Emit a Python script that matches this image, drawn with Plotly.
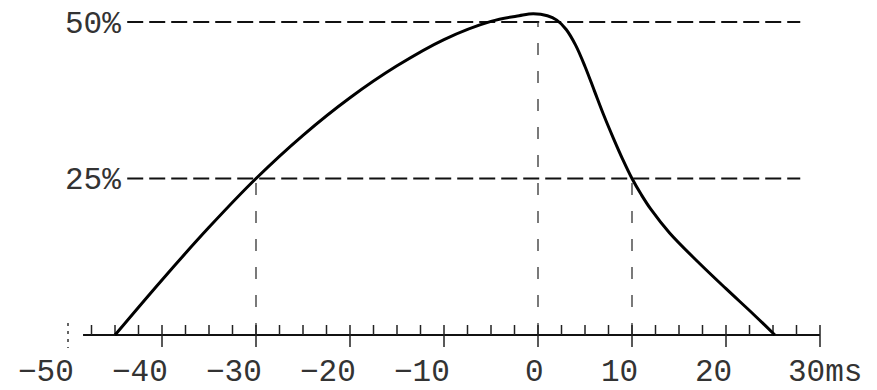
import plotly.graph_objects as go

# ---- data ----
time_ms = [-45, -40, -35, -30, -25, -20, -15, -10, -5, -2, -0.5, 1, 2, 3, 4, 5, 6, 7, 8, 9, 10, 11, 12, 14, 17, 20, 23, 25.2]
percent = [0, 8.8, 17.2, 25, 31.9, 37.9, 43.0, 47.2, 50.1, 51.0, 51.3, 51.0, 50.3, 48.8, 46.3, 42.9, 39.0, 35.1, 31.5, 28.1, 25.0, 22.4, 20.1, 16.3, 11.7, 7.4, 3.2, 0]

x_major_ticks = [-50, -40, -30, -20, -10, 0, 10, 20, 30]
x_tick_labels = ["−50", "−40", "−30", "−20", "−10", "0", "10", "20", "30ms"]
x_minor_step = 2.5

y_levels = [25, 50]
y_labels = ["25%", "50%"]

# dashed verticals dropping from the curve to the axis
drop_times = [-30, 0, 10]
drop_levels = [25, 50, 25]

grid_x_start = -43.7
grid_x_end = 27.9
axis_x_start = -48.4

# ---- geometry ----
W, H = 877, 390
PAGE_OFFSET = 8          # default body margin of the page
px_x = 9.4               # pixels per ms
px_y = 6.26              # pixels per percent
x0_px = 538 - PAGE_OFFSET
y0_px = 335 - PAGE_OFFSET
x_range = [-x0_px / px_x, (W - x0_px) / px_x]
y_range = [-(H - y0_px) / px_y, y0_px / px_y]

FONT = "Liberation Mono, DejaVu Sans Mono, monospace"
TEXT_COLOR = "#333333"
FS = 31

fig = go.Figure()

# horizontal dashed level lines
for lvl in y_levels:
    fig.add_trace(go.Scatter(
        x=[grid_x_start, grid_x_end], y=[lvl, lvl], mode="lines",
        line=dict(color="#111111", width=1.8, dash="16px,6px"),
        hoverinfo="skip", showlegend=False))

# vertical dashed drop lines
for t, lvl in zip(drop_times, drop_levels):
    fig.add_trace(go.Scatter(
        x=[t, t], y=[0, lvl], mode="lines",
        line=dict(color="#333333", width=1.3, dash="12px,16px"),
        hoverinfo="skip", showlegend=False))

# axis line
fig.add_trace(go.Scatter(
    x=[axis_x_start, x_major_ticks[-1]], y=[0, 0], mode="lines",
    line=dict(color="#111111", width=2), hoverinfo="skip", showlegend=False))

# ticks
up = 10 / px_y
down = 12 / px_y
tx, ty = [], []
n_minor = int(round((x_major_ticks[-1] - x_major_ticks[0]) / x_minor_step))
for i in range(1, n_minor + 1):
    v = x_major_ticks[0] + i * x_minor_step
    if v < axis_x_start:
        continue
    tx += [v, v, None]
    if abs(v % 10) < 1e-9:
        ty += [up, -down, None]
    else:
        ty += [up, 0, None]
fig.add_trace(go.Scatter(
    x=tx, y=ty, mode="lines", line=dict(color="#222222", width=1.5),
    hoverinfo="skip", showlegend=False))

# detached start marker at -50
fig.add_trace(go.Scatter(
    x=[x_major_ticks[0], x_major_ticks[0]], y=[12 / px_y, -13 / px_y], mode="lines",
    line=dict(color="#333333", width=1.5, dash="3px,5px"),
    hoverinfo="skip", showlegend=False))

# the curve
fig.add_trace(go.Scatter(
    x=time_ms, y=percent, mode="lines",
    line=dict(color="black", width=3, shape="spline", smoothing=1.0),
    hoverinfo="skip", showlegend=False))

# x tick labels
label_y = -(372.5 - 335) / px_y
for v, lab in zip(x_major_ticks, x_tick_labels):
    if lab.endswith("ms"):
        fig.add_annotation(x=v, y=label_y, text=lab, showarrow=False,
                           xanchor="left", yanchor="middle", xshift=-34,
                           font=dict(family=FONT, size=FS, color=TEXT_COLOR))
    else:
        fig.add_annotation(x=v, y=label_y, text=lab, showarrow=False,
                           xanchor="right", yanchor="middle", xshift=8,
                           font=dict(family=FONT, size=FS, color=TEXT_COLOR))

# y labels
for lvl, lab in zip(y_levels, y_labels):
    fig.add_annotation(x=grid_x_start, y=lvl, text=lab, showarrow=False,
                       xanchor="right", yanchor="middle", xshift=-4, yshift=-2,
                       font=dict(family=FONT, size=FS, color=TEXT_COLOR))

fig.update_layout(
    width=W, height=H,
    margin=dict(l=0, r=0, t=0, b=0),
    paper_bgcolor="white", plot_bgcolor="white",
    xaxis=dict(range=x_range, visible=False, fixedrange=True),
    yaxis=dict(range=y_range, visible=False, fixedrange=True),
    showlegend=False,
)

fig.write_html("out.html", config={"displayModeBar": False})
